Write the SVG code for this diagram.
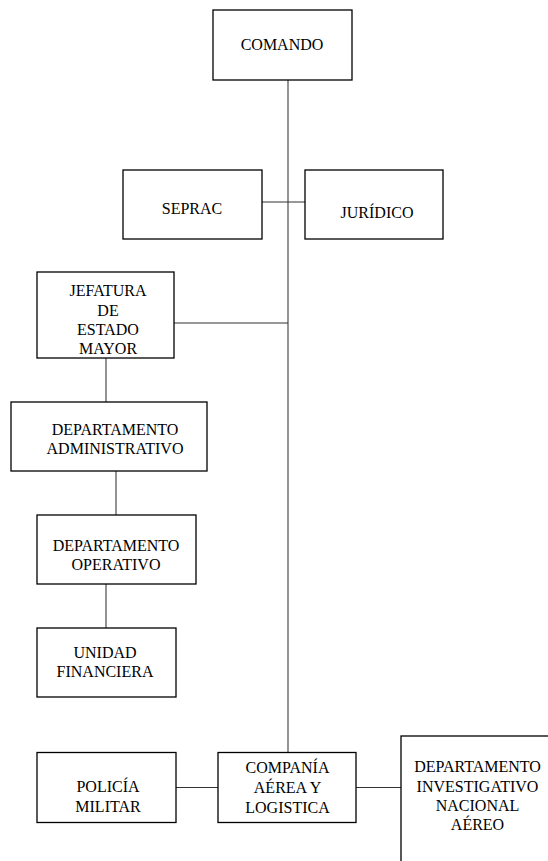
<svg xmlns="http://www.w3.org/2000/svg" width="548" height="861" viewBox="0 0 548 861">
<rect width="548" height="861" fill="#fff"/>
<g id="connectors" fill="none" stroke-width="1.2">
<line stroke="#666" stroke-width="1.4" x1="288" y1="80" x2="288" y2="753"/>
<line stroke="#333" x1="262" y1="202" x2="305" y2="202"/>
<line stroke="#333" x1="174" y1="323" x2="288" y2="323"/>
<line stroke="#666" stroke-width="1.4" x1="106" y1="358" x2="106" y2="402"/>
<line stroke="#666" stroke-width="1.4" x1="116" y1="471" x2="116" y2="515"/>
<line stroke="#666" stroke-width="1.4" x1="106" y1="584" x2="106" y2="628"/>
<line stroke="#333" x1="176" y1="787.5" x2="218" y2="787.5"/>
<line stroke="#333" x1="356" y1="787.5" x2="401" y2="787.5"/>
</g>
<g id="nodes">
<g id="comando">
<rect x="213" y="10" width="139" height="70" fill="#fff" stroke="#000" stroke-width="1.3"/>
<text x="282" y="50" font-size="16" font-family="Times New Roman" text-anchor="middle">COMANDO</text>
</g>
<g id="seprac">
<rect x="123" y="170" width="139" height="69" fill="#fff" stroke="#000" stroke-width="1.3"/>
<text x="192" y="213.5" font-size="16" font-family="Times New Roman" text-anchor="middle">SEPRAC</text>
</g>
<g id="juridico">
<rect x="305" y="170" width="138" height="69" fill="#fff" stroke="#000" stroke-width="1.3"/>
<text x="377" y="217.5" font-size="16" font-family="Times New Roman" text-anchor="middle">JURÍDICO</text>
</g>
<g id="jefatura">
<rect x="37" y="272" width="137" height="86" fill="#fff" stroke="#000" stroke-width="1.3"/>
<text x="108" y="296" font-size="16" font-family="Times New Roman" text-anchor="middle">JEFATURA</text>
<text x="108" y="315.5" font-size="16" font-family="Times New Roman" text-anchor="middle">DE</text>
<text x="108" y="335" font-size="16" font-family="Times New Roman" text-anchor="middle">ESTADO</text>
<text x="108" y="354" font-size="16" font-family="Times New Roman" text-anchor="middle">MAYOR</text>
</g>
<g id="dept-admin">
<rect x="11" y="402" width="196" height="69" fill="#fff" stroke="#000" stroke-width="1.3"/>
<text x="115" y="435" font-size="16" font-family="Times New Roman" text-anchor="middle">DEPARTAMENTO</text>
<text x="115" y="453.5" font-size="16" font-family="Times New Roman" text-anchor="middle">ADMINISTRATIVO</text>
</g>
<g id="dept-oper">
<rect x="37" y="515" width="159" height="69" fill="#fff" stroke="#000" stroke-width="1.3"/>
<text x="116" y="551" font-size="16" font-family="Times New Roman" text-anchor="middle">DEPARTAMENTO</text>
<text x="116" y="570" font-size="16" font-family="Times New Roman" text-anchor="middle">OPERATIVO</text>
</g>
<g id="unidad">
<rect x="37" y="628" width="139" height="69" fill="#fff" stroke="#000" stroke-width="1.3"/>
<text x="105" y="658" font-size="16" font-family="Times New Roman" text-anchor="middle">UNIDAD</text>
<text x="105" y="677" font-size="16" font-family="Times New Roman" text-anchor="middle">FINANCIERA</text>
</g>
<g id="policia">
<rect x="37" y="752.5" width="139" height="70" fill="#fff" stroke="#000" stroke-width="1.3"/>
<text x="108" y="792" font-size="16" font-family="Times New Roman" text-anchor="middle">POLICÍA</text>
<text x="108" y="811.5" font-size="16" font-family="Times New Roman" text-anchor="middle">MILITAR</text>
</g>
<g id="compania">
<rect x="218" y="752.5" width="138" height="70" fill="#fff" stroke="#000" stroke-width="1.3"/>
<text x="287.5" y="773" font-size="16" font-family="Times New Roman" text-anchor="middle">COMPANÍA</text>
<text x="287.5" y="793" font-size="16" font-family="Times New Roman" text-anchor="middle">AÉREA Y</text>
<text x="287.5" y="813" font-size="16" font-family="Times New Roman" text-anchor="middle">LOGISTICA</text>
</g>
<g id="dept-inv">
<rect x="401" y="736" width="155" height="140" fill="#fff" stroke="#000" stroke-width="1.3"/>
<text x="477.5" y="771.5" font-size="16" font-family="Times New Roman" text-anchor="middle">DEPARTAMENTO</text>
<text x="477.5" y="791.5" font-size="16" font-family="Times New Roman" text-anchor="middle">INVESTIGATIVO</text>
<text x="477.5" y="811" font-size="16" font-family="Times New Roman" text-anchor="middle">NACIONAL</text>
<text x="477.5" y="830" font-size="16" font-family="Times New Roman" text-anchor="middle">AÉREO</text>
</g>
</g>
</svg>
